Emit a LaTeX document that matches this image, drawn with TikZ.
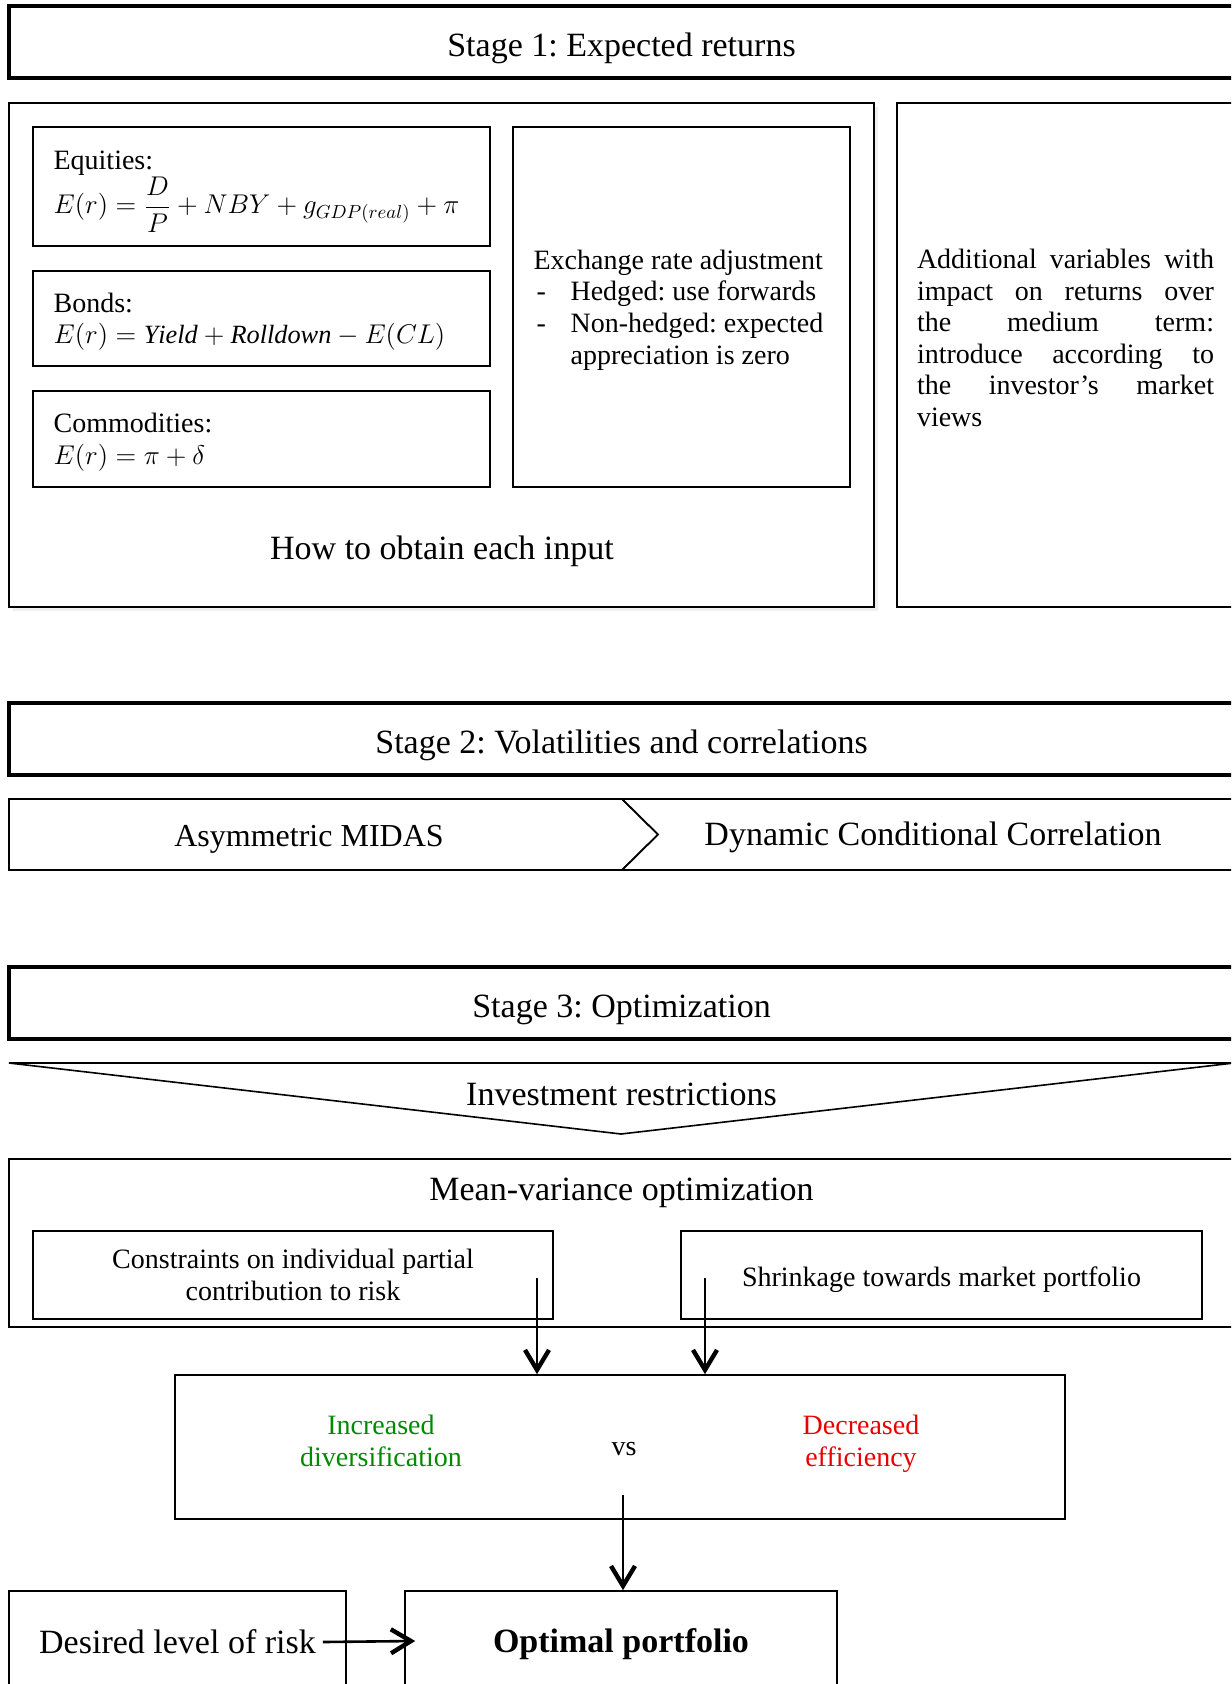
\documentclass[tikz,border=0pt]{standalone}
\usepackage{amsmath}
\usepackage{graphicx}
\usepackage{fontspec}
\setmainfont{Liberation Serif}
\frenchspacing
\usetikzlibrary{arrows.meta,shadows}
\definecolor{gaingreen}{RGB}{0,138,0}
\definecolor{lossred}{RGB}{235,0,0}
\newcommand{\formula}[1]{\scalebox{0.94}{$#1$}}

\begin{document}
\begin{tikzpicture}[x=0.5pt,y=-0.5pt,
        big/.style={font=\fontsize{17}{20}\selectfont},
        small/.style={font=\fontsize{14}{15.8}\selectfont},
        stage bar/.style={draw,line width=2pt,minimum width=612.5pt,minimum height=36pt,inner sep=0pt,
            text height=14.5pt,text depth=0pt,big},
        box line/.style={line width=0.8pt},
        box node/.style={draw,box line,inner sep=0pt},
        inner text/.style={small,align=flush left,inner sep=0pt,anchor=west},
        flow/.style={-{Straight Barb[length=10pt,width=12pt,line width=2.2pt]},line width=1.3pt}]

    \useasboundingbox (0,0) rectangle (1231,1684);
    \clip (0,0) rectangle (1231,1684);

    % stage 1
    \node[stage bar] (stage1) at (621.5,42) {Stage 1: Expected returns};
    \node[box node,fill=white,minimum width=432.5pt,minimum height=252pt,
        drop shadow={shadow xshift=2pt,shadow yshift=-2pt,fill=black!12}] (inputs) at (441.5,355) {};
    \node[box node,minimum width=228.5pt,minimum height=59.5pt] (equities) at (261.5,186.5) {};
    \node[box node,minimum width=228.5pt,minimum height=47.5pt] (bonds) at (261.5,318.5) {};
    \node[box node,minimum width=228.5pt,minimum height=48pt] (commodities) at (261.5,439) {};
    \node[box node,minimum width=168.5pt,minimum height=180pt] (exchange) at (681.5,307) {};
    \node[inner text] (equitiestext) at ([xshift=10.5pt,yshift=-2.5pt]equities.west)
        {Equities:\\ \formula{E(r)=\dfrac{D}{P}+NBY+g_{GDP(real)}+\pi}};
    \node[inner text] (bondstext) at ([xshift=10.5pt,yshift=-1.5pt]bonds.west)
        {Bonds:\\ \formula{E(r)=\mathit{Yield}+\mathit{Rolldown}-E(CL)}};
    \node[inner text] (commoditiestext) at ([xshift=10.5pt,yshift=-1.5pt]commodities.west)
        {Commodities:\\ \formula{E(r)=\pi+\delta}};
    \node[inner text] (exchangetext) at ([xshift=10.5pt,yshift=-1.5pt]exchange.west)
        {Exchange rate adjustment\\
         \makebox[18.5pt][l]{\hspace{1.5pt}-}Hedged: use forwards\\
         \makebox[18.5pt][l]{\hspace{1.5pt}-}Non-hedged: expected\\
         \hspace*{18.5pt}appreciation is zero};
    \node[big] (howto) at (442,551) {How to obtain each input};
    \node[box node,minimum width=168.5pt,minimum height=252pt] (extra) at (1065.5,355) {};
    \node[small,text width=148.5pt,align=flush left,inner sep=0pt] (extratext) at (1065.5,338)
        {\makebox[148.5pt][s]{Additional\hfill variables\hfill with}\\
         \makebox[148.5pt][s]{impact\hfill on\hfill returns\hfill over}\\
         \makebox[148.5pt][s]{the\hfill medium\hfill term:}\\
         \makebox[148.5pt][s]{introduce\hfill according\hfill to}\\
         \makebox[148.5pt][s]{the\hfill investor's\hfill market}\\
         views};

    % stage 2
    \node[stage bar] (stage2) at (621.5,739) {Stage 2: Volatilities and correlations};
    \draw[box line] (9,799) -- (622,799) -- (658,834.5) -- (622,870) -- (9,870) -- cycle;
    \draw[box line] (622,799) -- (1240,799) -- (1240,870) -- (622,870) -- (658,834.5) -- cycle;
    \node[font=\fontsize{16}{19}\selectfont] (midas) at (309,839) {Asymmetric MIDAS};
    \node[big] (dcc) at (933,837) {Dynamic Conditional Correlation};

    % stage 3
    \node[stage bar] (stage3) at (621.5,1003) {Stage 3: Optimization};
    \draw[box line] (9,1063) -- (1234,1063) -- (621,1134) -- cycle;
    \node[big] (restrictions) at (621.5,1094) {Investment restrictions};
    \node[box node,minimum width=612.5pt,minimum height=84pt] (meanvar) at (621.5,1243) {};
    \node[big] (mvtitle) at (621.5,1193) {Mean-variance optimization};
    \node[box node,small,align=flush center,minimum width=260pt,minimum height=44pt] (constraints) at (293,1275)
        {Constraints on individual partial\\ contribution to risk};
    \node[box node,minimum width=260.5pt,minimum height=44pt] (shrinkage) at (941.5,1275) {};
    \node[small] (shrinkagetext) at ([yshift=-2.5pt]shrinkage.center) {Shrinkage towards market portfolio};
    \node[box node,minimum width=445pt,minimum height=72pt] (tradeoff) at (620,1447) {};
    \node[small,align=flush center,text=gaingreen] (gain) at (381,1441) {Increased\\ diversification};
    \node[small] (versus) at (624,1449) {vs};
    \node[small,align=flush center,text=lossred] (loss) at (861,1444) {Decreased\\ efficiency};
    \node[box node,minimum width=168.5pt,minimum height=50pt] (risk) at (177.5,1641) {};
    \node[big] (risktext) at (177.5,1642) {Desired level of risk};
    \node[box node,minimum width=216pt,minimum height=50pt] (optimal) at (621,1641) {};
    \node[font=\fontsize{17}{20}\selectfont\bfseries] (optimaltext) at (621,1644) {Optimal portfolio};

    \coordinate (c1) at (537,1278);
    \coordinate (c2) at (705,1278);
    \coordinate (c3) at (623,1495);
    \path[flow]
        (c1) edge (c1 |- tradeoff.north)
        (c2) edge (c2 |- tradeoff.north)
        (c3) edge (c3 |- optimal.north)
        (risktext.east) edge ([xshift=5.5pt]optimal.west)
        ;
\end{tikzpicture}
\end{document}
